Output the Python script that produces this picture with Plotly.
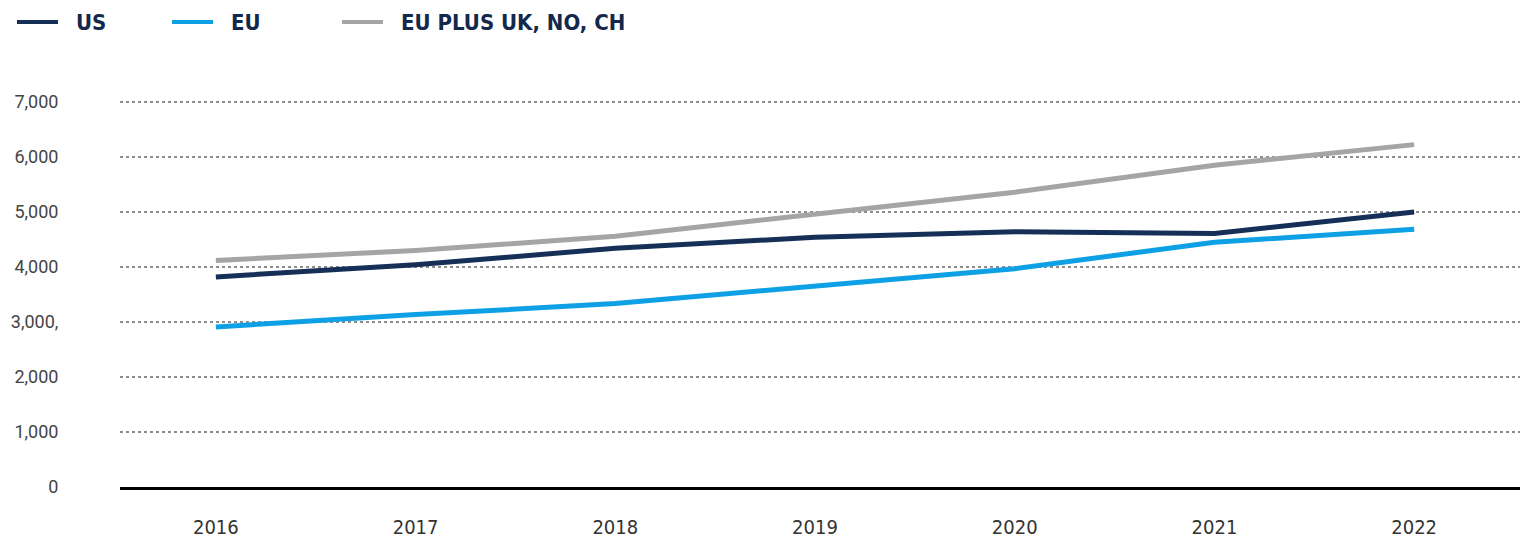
import plotly.graph_objects as go

years = ["2016", "2017", "2018", "2019", "2020", "2021", "2022"]
us = [3820, 4040, 4340, 4540, 4640, 4610, 5000]
eu = [2910, 3135, 3335, 3660, 3970, 4450, 4685]
eu_plus = [4120, 4300, 4560, 4950, 5360, 5850, 6225]

series_names = ["US", "EU", "EU PLUS UK, NO, CH"]
series_colors = ["#162f57", "#0ea0e4", "#a5a5a5"]
series_values = [us, eu, eu_plus]

y_tickvals = [0, 1000, 2000, 3000, 4000, 5000, 6000, 7000]
y_ticktext = ["0", "1,000", "2,000", "3,000,", "4,000", "5,000", "6,000", "7,000"]

fig = go.Figure()
for name, color, vals in zip(series_names, series_colors, series_values):
    fig.add_trace(go.Scatter(
        x=list(range(len(years))), y=vals, name=name, mode="lines",
        line=dict(color=color, width=5), showlegend=False,
    ))

# custom legend at top-left
legend_font = dict(family="Liberation Sans Narrow, DejaVu Sans Condensed, sans-serif",
                   size=22, color="#14284b", weight="bold")
leg_x = [17, 172, 342]
PLOT_H = 407
for lx, name, color in zip(leg_x, series_names, series_colors):
    fig.add_shape(type="line", xref="paper", yref="paper",
                  x0=(lx - 120) / 1400, x1=(lx + 41 - 120) / 1400,
                  y0=(487 - 22) / PLOT_H, y1=(487 - 22) / PLOT_H,
                  line=dict(color=color, width=4))
    fig.add_annotation(xref="paper", yref="paper",
                       x=(lx + 57 - 120) / 1400, y=(487 - 23) / PLOT_H,
                       xanchor="left", yanchor="middle", showarrow=False,
                       text=name, font=legend_font)

fig.update_layout(
    width=1520, height=546,
    margin=dict(l=120, r=0, t=80, b=59),
    paper_bgcolor="white", plot_bgcolor="white",
    xaxis=dict(
        range=[-0.48, 6.53],
        tickvals=list(range(len(years))), ticktext=years,
        showgrid=False, zeroline=False,
        showline=True, linecolor="#000000", linewidth=3,
        ticks="outside", ticklen=20, tickcolor="rgba(0,0,0,0)",
        tickfont=dict(family="Liberation Sans Narrow, DejaVu Sans Condensed, sans-serif",
                      size=20, color="#333333"),
    ),
    yaxis=dict(
        range=[0, 7400],
        tickvals=y_tickvals, ticktext=y_ticktext,
        showgrid=True, gridcolor="#8c8c8c", gridwidth=2, griddash="dot",
        zeroline=False, showline=False,
        ticks="outside", ticklen=57, tickcolor="rgba(0,0,0,0)",
        tickfont=dict(family="Roboto, sans-serif", size=18, color="#444444"),
    ),
)

fig.write_html("out.html", post_script="document.body.style.margin='0';",
               config={"displayModeBar": False})
